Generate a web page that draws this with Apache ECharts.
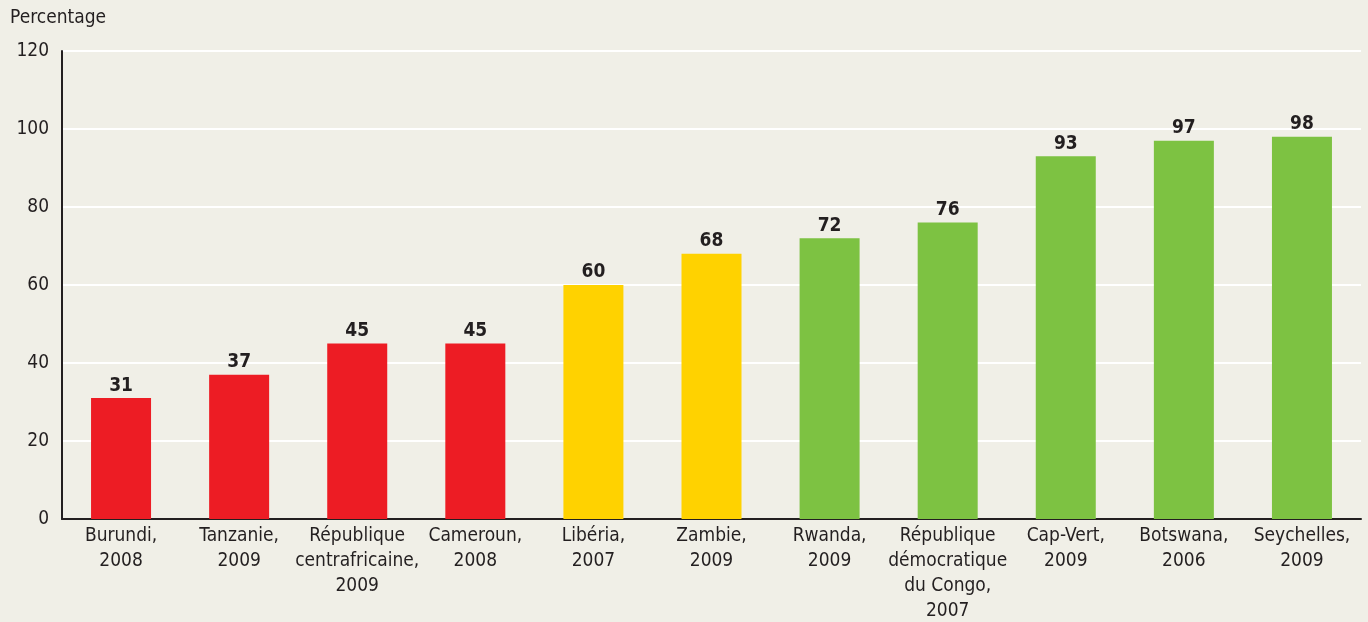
<!DOCTYPE html>
<html>
<head>
<meta charset="utf-8">
<script src="https://cdn.jsdelivr.net/npm/echarts@6/dist/echarts.min.js"></script>
<style>
  html, body { margin: 0; padding: 0; background: #f0efe7; }
  #chart { width: 1368px; height: 622px; }
</style>
</head>
<body>
<div id="chart"></div>
<script>
  // catégories (pays, année)
  var categories = [
    'Burundi,\n2008', 'Tanzanie,\n2009', 'République\ncentrafricaine,\n2009',
    'Cameroun,\n2008', 'Libéria,\n2007', 'Zambie,\n2009', 'Rwanda,\n2009',
    'République\ndémocratique\ndu Congo,\n2007', 'Cap-Vert,\n2009',
    'Botswana,\n2006', 'Seychelles,\n2009'
  ];
  var values = [31, 37, 45, 45, 60, 68, 72, 76, 93, 97, 98];
  // groupe de chaque barre : 0 = rouge, 1 = jaune, 2 = vert
  var groups = [0, 0, 0, 0, 1, 1, 2, 2, 2, 2, 2];
  var yTicks = [0, 20, 40, 60, 80, 100, 120];

  var groupColors = ['#ed1c24', '#ffd200', '#7dc242'];
  var font = '"DejaVu Sans Condensed", "Liberation Sans Narrow", sans-serif';

  var myChart = echarts.init(document.getElementById('chart'));

  var option = {
    backgroundColor: '#f0efe7',
    animation: false,
    title: {
      text: 'Percentage',
      left: 5,
      top: 4,
      textStyle: { fontFamily: font, fontSize: 19, fontWeight: 'normal', color: '#231f20' }
    },
    grid: { left: 62, right: 7, top: 51, bottom: 103, outerBoundsMode: 'none' },
    xAxis: {
      type: 'category',
      data: categories,
      axisLine: { lineStyle: { color: '#231f20', width: 2 } },
      axisTick: { show: false },
      axisLabel: {
        interval: 0,
        margin: 5,
        fontFamily: font,
        fontSize: 19,
        lineHeight: 25,
        color: '#231f20'
      }
    },
    yAxis: {
      type: 'value',
      min: yTicks[0],
      max: yTicks[yTicks.length - 1],
      interval: 20,
      axisLine: { show: true, lineStyle: { color: '#231f20', width: 2 } },
      axisTick: { show: false },
      splitLine: { lineStyle: { color: '#ffffff', width: 2 } },
      axisLabel: {
        margin: 13,
        fontFamily: font,
        fontSize: 19,
        color: '#231f20'
      }
    },
    series: [{
      type: 'bar',
      barWidth: 60,
      data: values.map(function (v, i) {
        return { value: v, itemStyle: { color: groupColors[groups[i]] } };
      }),
      label: {
        show: true,
        position: 'top',
        distance: 3,
        fontFamily: font,
        fontSize: 19,
        fontWeight: 'bold',
        color: '#231f20'
      }
    }]
  };

  myChart.setOption(option);
</script>
</body>
</html>
